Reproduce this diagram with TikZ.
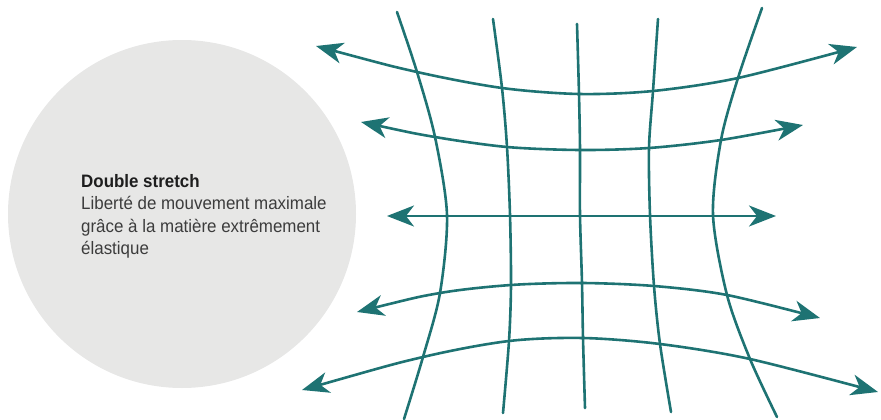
\documentclass[tikz,border=0pt]{standalone}
\usepackage{fontspec}
\setmainfont{Liberation Sans}[FakeStretch=0.94]
\usetikzlibrary{arrows.meta}
\definecolor{teal}{RGB}{30,115,115}
\definecolor{disc}{RGB}{231,231,230}
\definecolor{txt}{RGB}{60,60,60}
\definecolor{ttl}{RGB}{30,30,30}
\tikzset{
  gridline/.style={draw=teal, line width=2.6pt, line cap=round},
  stretcharrow/.style={gridline, line cap=butt, {Stealth[length=27pt,width=21pt,inset=8pt]}-{Stealth[length=27pt,width=21pt,inset=8pt]}},
  caption/.style={anchor=base west, align=left, inner sep=0pt, text=txt, font=\fontsize{18}{22.5}\selectfont}
}
\begin{document}
\begin{tikzpicture}[x=1pt,y=-1pt]
\useasboundingbox (0,0) rectangle (881,420);
\fill[disc] (182,214) circle (174);
\node[caption] (label) at (81,254.5) {\textcolor{ttl}{\textbf{Double stretch}}\\Liberté de mouvement maximale\\grâce à la matière extrêmement\\élastique};
% vertical lines
\draw[gridline] plot[smooth] coordinates {(397,12) (417,72) (435,137) (447,215) (440,293) (423,357) (404,419)};
\draw[gridline] plot[smooth] coordinates {(493,19) (502,88) (507,147) (510,215) (511,285) (509,341) (503,413)};
\draw[gridline] plot[smooth] coordinates {(577,24) (579,94) (580,150) (580,215) (582,283) (583,338) (585,408)};
\draw[gridline] plot[smooth] coordinates {(658,19) (653,91) (649,148) (650,215) (654,286) (660,344) (671,412)};
\draw[gridline] plot[smooth] coordinates {(762,8) (738,78) (721,140) (713,215) (727,295) (750,359) (777,417)};
% horizontal arrows
\draw[stretcharrow] plot[smooth] coordinates {(316,46) (417,72) (502,88) (579,94) (653,91) (738,78) (857,47)};
\draw[stretcharrow] plot[smooth] coordinates {(361,122) (435,137) (507,147) (580,150) (649,148) (721,140) (803,125)};
\draw[stretcharrow] (387,216) -- (776,216);
\draw[stretcharrow] plot[smooth] coordinates {(357,312) (440,293) (511,285) (582,283) (654,286) (727,295) (820,318)};
\draw[stretcharrow] plot[smooth] coordinates {(302,390) (423,357) (509,341) (583,338) (660,344) (750,359) (878,392)};
\end{tikzpicture}
\end{document}
